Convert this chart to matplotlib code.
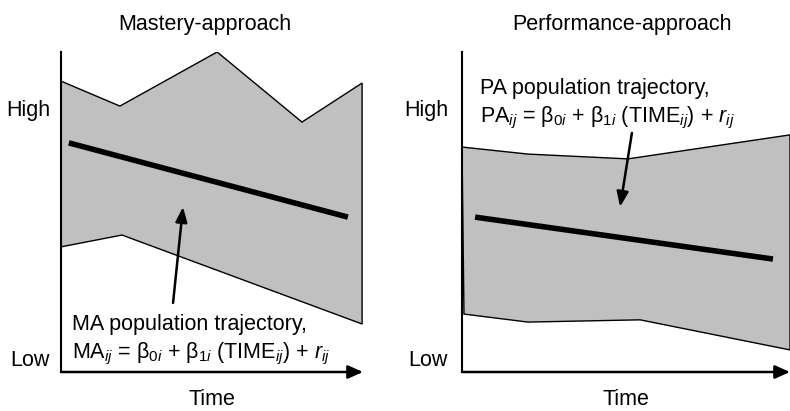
import matplotlib
matplotlib.use("Agg")
import matplotlib.pyplot as plt

plt.rcParams['font.family'] = ['Liberation Sans', 'DejaVu Sans']
plt.rcParams['mathtext.fontset'] = 'custom'
plt.rcParams['mathtext.rm'] = 'Liberation Sans'
plt.rcParams['mathtext.it'] = 'Liberation Sans:italic'
plt.rcParams['mathtext.bf'] = 'Liberation Sans:bold'

# data (arbitrary units: time 0..10, score 0..10)
ma_upper_x = [0, 1.95, 5.17, 7.98, 9.97]
ma_upper_y = [9.09, 8.31, 10.0, 7.81, 9.03]
ma_lower_x = [0, 2.02, 9.97]
ma_lower_y = [3.91, 4.28, 1.5]
ma_trend_x = [0.26, 9.5]
ma_trend_y = [7.16, 4.84]

pa_upper_x = [0, 2.01, 5.06, 10]
pa_upper_y = [7.03, 6.81, 6.66, 7.41]
pa_lower_x = [0.06, 2.01, 5.43, 10]
pa_lower_y = [1.81, 1.56, 1.63, 0.69]
pa_trend_x = [0.40, 9.48]
pa_trend_y = [4.84, 3.53]

titles = ['Mastery-approach', 'Performance-approach']
ytick_pos = [8.25, 0.44]
ytick_labels = ['High', 'Low']

fig = plt.figure(figsize=(7.9, 4.11), dpi=100)
W, H = 790, 411
ax1 = fig.add_axes([61 / W, 39 / H, 302 / W, 320 / H])
ax2 = fig.add_axes([462 / W, 39 / H, 328 / W, 320 / H])

fs = 15.5


def panel(ax, ux, uy, lx, ly, tx, ty, title, tx_title, ypad):
    xs = ux + lx[::-1]
    ys = uy + ly[::-1]
    ax.fill(xs, ys, facecolor='#c0c0c0', edgecolor='black', lw=1, zorder=1)
    ax.plot(tx, ty, color='black', lw=4, solid_capstyle='butt', zorder=3)
    ax.set_xlim(0, 10)
    ax.set_ylim(0, 10)
    for s in ['top', 'right', 'bottom']:
        ax.spines[s].set_visible(False)
    ax.spines['left'].set_linewidth(1.5)
    ax.set_xticks([])
    ax.set_yticks(ytick_pos)
    ax.set_yticklabels(ytick_labels, fontsize=fs)
    ax.tick_params(axis='y', length=0, pad=ypad)
    ax.annotate('', xy=(1, 0), xytext=(0, 0), xycoords='axes fraction',
                arrowprops=dict(arrowstyle='-|>,head_length=0.9,head_width=0.4',
                                lw=1.8, color='black', shrinkA=0, shrinkB=0),
                annotation_clip=False)
    ax.set_title(title, fontsize=fs, pad=16, x=tx_title)
    ax.set_xlabel('Time', fontsize=fs, labelpad=12.5)
    ax.patch.set_visible(False)


panel(ax1, ma_upper_x, ma_upper_y, ma_lower_x, ma_lower_y, ma_trend_x, ma_trend_y,
      titles[0], 0.477, 8)
panel(ax2, pa_upper_x, pa_upper_y, pa_lower_x, pa_lower_y, pa_trend_x, pa_trend_y,
      titles[1], 0.488, 10)

ax1.annotate('', xy=(4.04, 5.16), xytext=(3.71, 2.16),
             arrowprops=dict(arrowstyle='-|>,head_length=0.9,head_width=0.35',
                             lw=1.8, color='black', shrinkA=0, shrinkB=0))
ax2.annotate('', xy=(4.82, 5.16), xytext=(5.18, 7.47),
             arrowprops=dict(arrowstyle='-|>,head_length=0.9,head_width=0.35',
                             lw=1.8, color='black', shrinkA=0, shrinkB=0))

eq = r'$_{ij}$ = β$_{0i}$ + β$_{1i}$ (TIME$_{ij}$) + $r_{ij}$'
ax1.text(0.36, 1.31, 'MA population trajectory,', fontsize=fs, va='baseline', zorder=4)
ax1.text(0.36, 0.44, 'MA' + eq, fontsize=fs, va='baseline', zorder=4)
ax2.text(0.55, 8.69, 'PA population trajectory,', fontsize=fs, va='baseline', zorder=4)
ax2.text(0.55, 7.81, 'PA' + eq, fontsize=fs, va='baseline', zorder=4)

fig.savefig('out.png', dpi=100)
